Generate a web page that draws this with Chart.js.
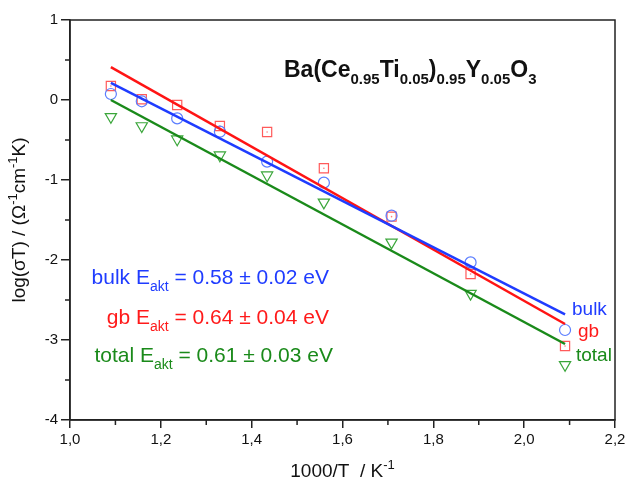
<!DOCTYPE html>
<html>
<head>
<meta charset="utf-8">
<script src="https://cdn.jsdelivr.net/npm/chart.js"></script>
<style>
	body { margin: 0; background: #fff; }
	canvas { display: block; }
</style>
</head>
<body>
<canvas id="arrhenius" width="629" height="482"></canvas>

<script>
	// -----------------------
	// --- Data (read off) ---
	// -----------------------
	var invT = [1.09, 1.158, 1.236, 1.33, 1.434, 1.559, 1.708, 1.882, 2.09];
	var bulk = [0.075, -0.016, -0.23, -0.396, -0.77, -1.033, -1.446, -2.03, -2.875];
	var gb = [0.175, 0.01, -0.062, -0.325, -0.40, -0.854, -1.458, -2.175, -3.075];
	var total = [-0.21, -0.325, -0.49, -0.69, -0.94, -1.28, -1.78, -2.42, -3.31];

	// linear fits, end points
	var fitX = [1.09, 2.09];
	var bulkFit = [0.215, -2.68];
	var gbFit = [0.41, -2.80];
	var totalFit = [0.0, -3.05];

	// axis ticks
	var xTicks = [1.0, 1.2, 1.4, 1.6, 1.8, 2.0, 2.2];
	var xMinor = [1.1, 1.3, 1.5, 1.7, 1.9, 2.1];
	var yTicks = [1, 0, -1, -2, -3, -4];
	var yMinor = [0.5, -0.5, -1.5, -2.5, -3.5];

	var FONT = '"Liberation Sans", Arial, Helvetica, sans-serif';
	var AXIS = '#222';

	function pairs(xs, ys) {
		return xs.map(function (x, i) { return { x: x, y: ys[i] }; });
	}

	// draw a string made of normal / sub / sup pieces
	function drawRich(ctx, parts, x, y, size, color, align, weight) {
		weight = weight || 'normal';
		var small = Math.round(size * 0.66);
		var width = 0;
		parts.forEach(function (p) {
			ctx.font = weight + ' ' + (p[1] === 'n' ? size : small) + 'px ' + FONT;
			width += ctx.measureText(p[0]).width;
		});
		var cx = align === 'right' ? x - width : (align === 'center' ? x - width / 2 : x);
		ctx.fillStyle = color;
		ctx.textAlign = 'left';
		ctx.textBaseline = 'alphabetic';
		parts.forEach(function (p) {
			var s = p[1] === 'n' ? size : small;
			var dy = p[1] === 'sub' ? size * 0.32 : (p[1] === 'sup' ? -size * 0.42 : 0);
			ctx.font = weight + ' ' + s + 'px ' + FONT;
			ctx.fillText(p[0], cx, y + dy);
			cx += ctx.measureText(p[0]).width;
		});
	}

	// ----------------------------------
	// --- Frame, minor ticks, labels ---
	// ----------------------------------
	var decorations = {
		id: 'decorations',
		afterDraw: function (chart) {
			var ctx = chart.ctx;
			var a = chart.chartArea;
			var xs = chart.scales.x;
			var ys = chart.scales.y;
			ctx.save();

			ctx.strokeStyle = AXIS;
			ctx.lineWidth = 1.5;
			ctx.strokeRect(a.left, a.top, a.right - a.left, a.bottom - a.top);

			// minor ticks (outside)
			ctx.beginPath();
			xMinor.forEach(function (v) {
				var px = xs.getPixelForValue(v);
				ctx.moveTo(px, a.bottom);
				ctx.lineTo(px, a.bottom + 5);
			});
			yMinor.forEach(function (v) {
				var py = ys.getPixelForValue(v);
				ctx.moveTo(a.left, py);
				ctx.lineTo(a.left - 5, py);
			});
			ctx.stroke();

			// compound name
			drawRich(ctx, [
				['Ba(Ce', 'n'], ['0.95', 'sub'], ['Ti', 'n'], ['0.05', 'sub'], [')', 'n'],
				['0.95', 'sub'], ['Y', 'n'], ['0.05', 'sub'], ['O', 'n'], ['3', 'sub']
			], 284, 77, 23, '#111', 'left', 'bold');

			// activation energies
			drawRich(ctx, [['bulk E', 'n'], ['akt', 'sub'], [' = 0.58 \u00b1 0.02 eV', 'n']], 329, 284, 21, '#1f3cff', 'right');
			drawRich(ctx, [['gb E', 'n'], ['akt', 'sub'], [' = 0.64 \u00b1 0.04 eV', 'n']], 329, 324, 21, '#ff1a1a', 'right');
			drawRich(ctx, [['total E', 'n'], ['akt', 'sub'], [' = 0.61 \u00b1 0.03 eV', 'n']], 333, 362, 21, '#1a8a1a', 'right');

			// series labels at the line ends
			drawRich(ctx, [['bulk', 'n']], 572, 315, 19, '#1f3cff', 'left');
			drawRich(ctx, [['gb', 'n']], 578, 337, 19, '#ff1a1a', 'left');
			drawRich(ctx, [['total', 'n']], 576, 361, 19, '#1a8a1a', 'left');

			// axis titles
			drawRich(ctx, [['1000/T  / K', 'n'], ['-1', 'sup']], (a.left + a.right) / 2, 477, 19, '#111', 'center');
			ctx.translate(25, (a.top + a.bottom) / 2);
			ctx.rotate(-Math.PI / 2);
			drawRich(ctx, [['log(\u03c3T) / (\u03a9', 'n'], ['-1', 'sup'], ['cm', 'n'], ['-1', 'sup'], ['K)', 'n']], 0, 0, 19, '#111', 'center');

			ctx.restore();
		}
	};

	// --------------------
	// --- Render chart ---
	// --------------------
	var ctx = document.getElementById('arrhenius').getContext('2d');
	new Chart(ctx, {
		type: 'scatter',
		data: {
			datasets: [
				{ data: pairs(fitX, bulkFit), showLine: true, pointRadius: 0, borderColor: '#1f3cff', borderWidth: 2.5 },
				{ data: pairs(fitX, gbFit), showLine: true, pointRadius: 0, borderColor: '#ff1414', borderWidth: 2.5 },
				{ data: pairs(fitX, totalFit), showLine: true, pointRadius: 0, borderColor: '#1a8a1a', borderWidth: 2.5 },
				{
					label: 'bulk', data: pairs(invT, bulk), pointStyle: 'circle', pointRadius: 5.5,
					borderColor: '#5a7dff', backgroundColor: 'rgba(0,0,0,0)', borderWidth: 1.2
				},
				{
					label: 'gb', data: pairs(invT, gb), pointStyle: 'rect', pointRadius: 6.5,
					borderColor: '#ff5a5a', backgroundColor: 'rgba(0,0,0,0)', borderWidth: 1.2
				},
				{
					label: 'gb dot', data: pairs(invT, gb), pointStyle: 'circle', pointRadius: 0.8,
					borderColor: '#ff7a7a', backgroundColor: '#ff7a7a', borderWidth: 0
				},
				{
					label: 'total', data: pairs(invT, total), pointStyle: 'triangle', rotation: 180, pointRadius: 6.5,
					borderColor: '#3aa63a', backgroundColor: 'rgba(0,0,0,0)', borderWidth: 1.2
				}
			]
		},
		options: {
			responsive: false,
			animation: false,
			events: [],
			layout: { padding: { left: 0, right: 14, top: 20, bottom: 0 } },
			plugins: {
				legend: { display: false },
				tooltip: { enabled: false }
			},
			scales: {
				x: {
					type: 'linear',
					min: 1.0,
					max: 2.2,
					afterBuildTicks: function (s) { s.ticks = xTicks.map(function (v) { return { value: v }; }); },
					afterFit: function (s) { s.height = 62; },
					border: { color: AXIS, width: 1.5 },
					grid: { drawOnChartArea: false, tickLength: 8, color: AXIS, lineWidth: 1.5 },
					ticks: {
						color: '#111',
						padding: 3,
						maxRotation: 0,
						font: { family: FONT, size: 15 },
						callback: function (v) { return Number(v).toFixed(1).replace('.', ','); }
					}
				},
				y: {
					type: 'linear',
					min: -4,
					max: 1,
					afterBuildTicks: function (s) { s.ticks = yTicks.map(function (v) { return { value: v }; }); },
					afterFit: function (s) { s.width = 70; },
					border: { color: AXIS, width: 1.5 },
					grid: { drawOnChartArea: false, tickLength: 9, color: AXIS, lineWidth: 1.5 },
					ticks: {
						color: '#111',
						padding: 3,
						font: { family: FONT, size: 15 },
						callback: function (v) { return String(v); }
					}
				}
			}
		},
		plugins: [decorations]
	});
</script>
</body>
</html>
